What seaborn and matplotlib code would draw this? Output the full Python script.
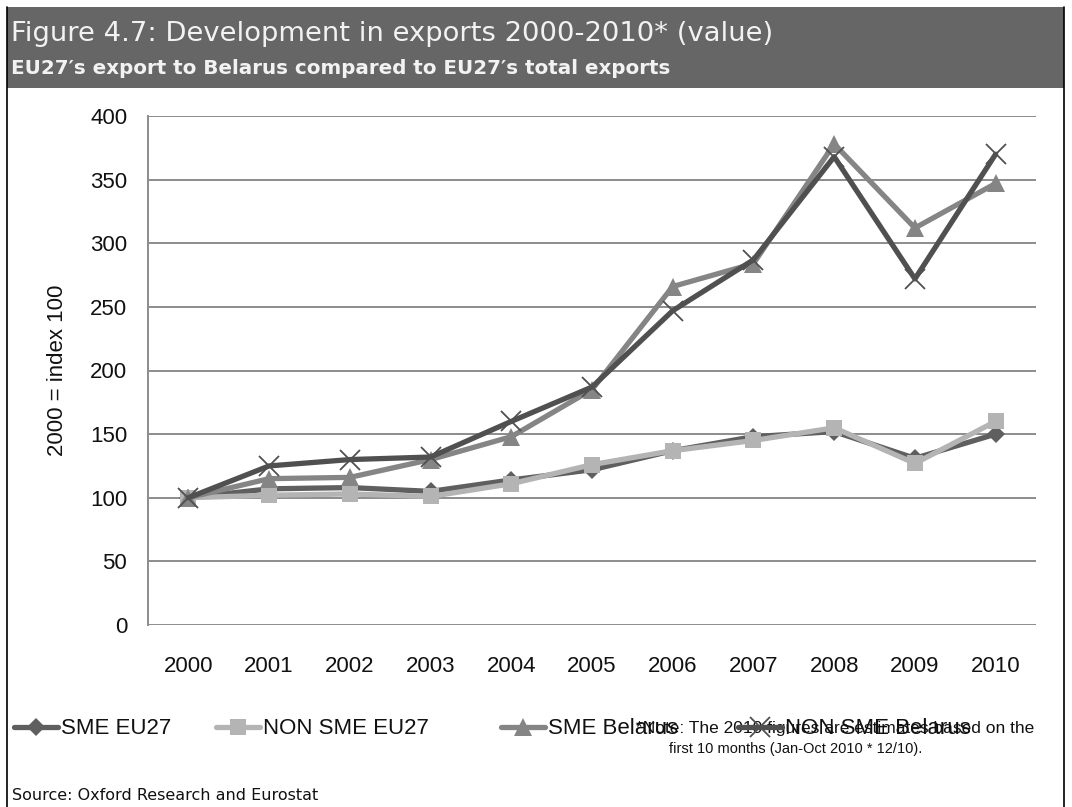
import matplotlib
matplotlib.use("Agg")
import matplotlib.pyplot as plt
import seaborn as sns
import pandas as pd
from matplotlib.patches import Rectangle
from matplotlib.lines import Line2D

years = ["2000", "2001", "2002", "2003", "2004", "2005", "2006", "2007", "2008", "2009", "2010"]
sme_eu27 = [100, 107, 108, 105, 114, 122, 137, 148, 152, 131, 150]
non_sme_eu27 = [100, 102, 103, 101, 111, 126, 137, 145, 155, 127, 160]
sme_belarus = [100, 115, 116, 130, 148, 185, 266, 284, 378, 312, 347]
non_sme_belarus = [100, 125, 130, 132, 160, 187, 247, 287, 368, 272, 370]
series_names = ["SME EU27", "NON SME EU27", "SME Belarus", "NON SME Belarus"]
y_ticks = [0, 50, 100, 150, 200, 250, 300, 350, 400]

sns.set_theme(style="white")
plt.rcParams["font.family"] = ["Liberation Sans", "DejaVu Sans"]

W, H = 1072, 807
fig = plt.figure(figsize=(W / 100, H / 100), dpi=100)
ax = fig.add_axes([148 / W, 1 - 625 / H, (1036 - 148) / W, (625 - 116) / H])

styles = [
    dict(color="#5f5f5f", marker="D", ms=9, mew=0, lw=3.8, zorder=3),
    dict(color="#b4b4b4", marker="s", ms=12, mew=0, lw=3.8, zorder=4),
    dict(color="#858585", marker="^", ms=13, mew=0, lw=3.8, zorder=5),
    dict(color="#505050", marker="x", ms=14, mew=1.3, lw=3.8, zorder=6),
]
all_vals = [sme_eu27, non_sme_eu27, sme_belarus, non_sme_belarus]
handles = []
for name, vals, st in zip(series_names, all_vals, styles):
    df = pd.DataFrame({"x": list(range(len(years))), "v": vals})
    sns.lineplot(data=df, x="x", y="v", ax=ax, color=st["color"], linewidth=st["lw"],
                 marker=st["marker"], markersize=st["ms"], markeredgewidth=st["mew"],
                 markeredgecolor=st["color"], markerfacecolor=st["color"], zorder=st["zorder"],
                 legend=False)
    handles.append(Line2D([], [], color=st["color"], lw=st["lw"], marker=st["marker"],
                          ms=st["ms"], mew=st["mew"], mec=st["color"], mfc=st["color"]))

ax.set_xlim(-0.5, len(years) - 0.5)
ax.set_ylim(0, 400)
ax.set_yticks(y_ticks)
ax.set_xticks(range(len(years)))
ax.set_xticklabels(years)
ax.yaxis.grid(True, color="#8c8c8c", linewidth=1.4)
ax.set_axisbelow(True)
for s in ["top", "right", "bottom"]:
    ax.spines[s].set_visible(False)
ax.spines["left"].set_color("#8c8c8c")
ax.spines["left"].set_linewidth(1.4)
ax.tick_params(axis="both", length=0, labelsize=16, colors="#111111")
ax.tick_params(axis="y", pad=15)
ax.tick_params(axis="x", pad=22)
ax.set_xlabel("")
ax.set_ylabel("2000 = index 100", fontsize=16, color="#111111", labelpad=16)

# header box and frame
fig.patches.append(Rectangle((7 / W, 1 - 88 / H), (1064 - 7) / W, (88 - 7) / H,
                             transform=fig.transFigure, facecolor="#666666", edgecolor="none", zorder=0))
fig.add_artist(Line2D([7 / W, 7 / W], [0, 1 - 7 / H], transform=fig.transFigure, color="black", lw=1.2))
fig.add_artist(Line2D([1064 / W, 1064 / W], [0, 1 - 7 / H], transform=fig.transFigure, color="black", lw=1.2))

fig.text(11 / W, 1 - 34 / H, "Figure 4.7: Development in exports 2000-2010* (value)",
         family="DejaVu Sans", fontsize=19.7, color="#f2f2f2", va="center", ha="left")
fig.text(11 / W, 1 - 68 / H, "EU27\u2032s export to Belarus compared to EU27\u2032s total exports",
         family="DejaVu Sans", fontsize=14.3, color="#f2f2f2", va="center", ha="left", weight="bold")

# legend entries
leg_y = 729
leg_x = [14, 216, 501, 738]
for h, name, lx in zip(handles, series_names, leg_x):
    lg = fig.legend([h], [name], loc="center left", bbox_to_anchor=(lx / W, 1 - leg_y / H),
                    frameon=False, fontsize=16, handlelength=2.0, handletextpad=0.1,
                    borderpad=0, borderaxespad=0, numpoints=1)
    for t in lg.get_texts():
        t.set_color("#111111")

fig.text(636 / W, 1 - leg_y / H, "*Note: The 2010 figures are estimates based on the",
         fontsize=12.5, color="#111111", va="center", ha="left")
fig.text(669 / W, 1 - 749 / H, "first 10 months (Jan-Oct 2010 * 12/10).",
         fontsize=10.5, color="#111111", va="center", ha="left")

fig.text(12 / W, 1 - 795 / H, "Source: Oxford Research and Eurostat",
         family="DejaVu Sans", fontsize=11.5, color="#111111", va="center", ha="left")

fig.savefig("out.png", dpi=100)
